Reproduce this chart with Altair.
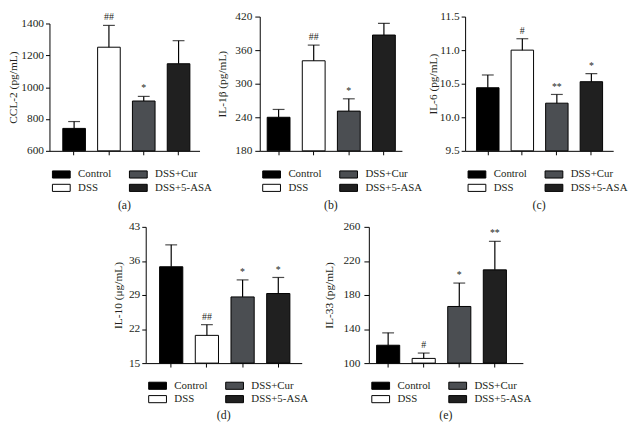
import altair as alt
import pandas as pd

FONT = "Liberation Serif"
TXT = "#231f20"

groups = ["Control", "DSS", "DSS+Cur", "DSS+5-ASA"]
bar_colors = ["#000000", "#ffffff", "#4b4e52", "#202020"]

# (a) CCL-2
ccl2_mean = [741, 1251, 913, 1147]
ccl2_err = [43, 137, 29, 145]
ccl2_sig = ["", "##", "*", ""]
ccl2_ticks = [600, 800, 1000, 1200, 1400]

# (b) IL-1beta
il1b_mean = [240, 341, 251, 387]
il1b_err = [14, 28, 22, 21]
il1b_sig = ["", "##", "*", ""]
il1b_ticks = [180, 240, 300, 360, 420]

# (c) IL-6
il6_mean = [10.44, 11.00, 10.21, 10.53]
il6_err = [0.19, 0.17, 0.13, 0.12]
il6_sig = ["", "#", "**", "*"]
il6_ticks = [9.5, 10.0, 10.5, 11.0, 11.5]

# (d) IL-10
il10_mean = [34.8, 20.7, 28.6, 29.3]
il10_err = [4.5, 2.2, 3.5, 3.3]
il10_sig = ["", "##", "*", "*"]
il10_ticks = [15, 22, 29, 36, 43]

# (e) IL-33
il33_mean = [121, 105.5, 166.5, 209.5]
il33_err = [14.5, 6.3, 27.5, 33.5]
il33_sig = ["", "#", "*", "**"]
il33_ticks = [100, 140, 180, 220, 260]


def panel(letter, ytitle, means, errs, sig, ticks, fmt, width, height,
          top_off, pad_outer, align, title_pad, tick_size, label_pad,
          legend_gap, title_gap):
    df = pd.DataFrame({"group": groups, "mean": means, "err": errs, "sig": sig})
    df["upper"] = df["mean"] + df["err"]
    xenc = alt.X(
        "group:N", sort=groups,
        scale=alt.Scale(paddingInner=0.35, paddingOuter=pad_outer, align=align),
        axis=alt.Axis(title=None, labels=False, ticks=True, tickSize=4,
                      domainColor="black", tickColor="black", domainWidth=1),
    )
    yscale = alt.Scale(domain=[ticks[0], ticks[-1]], range=[height, top_off],
                       nice=False, zero=False)
    yaxis = alt.Axis(values=ticks, format=fmt, title=ytitle, labelOverlap=False,
                     titlePadding=title_pad, tickSize=tick_size,
                     labelPadding=label_pad)
    base = alt.Chart(df)
    bars = base.mark_bar(stroke="black", strokeWidth=1).encode(
        x=xenc,
        y=alt.Y("mean:Q", scale=yscale, axis=yaxis),
        y2=alt.datum(ticks[0]),
        fill=alt.Fill(
            "group:N",
            scale=alt.Scale(domain=groups, range=bar_colors),
            legend=alt.Legend(
                orient="none", legendX=2, legendY=height + legend_gap, columns=2,
                title=None, symbolType="M-1,-0.8H3V0.8H-1Z", symbolSize=81,
                symbolStrokeColor="black", symbolStrokeWidth=1, symbolOpacity=1,
                labelFont=FONT, labelFontSize=11, labelColor=TXT,
                labelOffset=16, columnPadding=16, rowPadding=1, padding=0,
            ),
        ),
    )
    err_line = base.mark_rule(color="black", strokeWidth=1.2).encode(
        x=xenc, y=alt.Y("mean:Q", scale=yscale, axis=yaxis), y2="upper:Q")
    cap = base.mark_tick(color="black", thickness=1.2, size=12).encode(
        x=xenc, y=alt.Y("upper:Q", scale=yscale, axis=yaxis))
    txt = base.transform_filter("datum.sig != ''").mark_text(
        dy=-3, baseline="bottom", font=FONT, fontSize=10, color=TXT
    ).encode(x=xenc, y=alt.Y("upper:Q", scale=yscale, axis=yaxis), text="sig:N")
    return alt.layer(bars, err_line, cap, txt).properties(
        width=width, height=height,
        title=alt.TitleParams(text=letter, orient="bottom", anchor="middle",
                              font=FONT, fontSize=12, fontWeight="normal",
                              color=TXT, offset=title_gap),
    ).resolve_scale(fill="independent")


pa = panel("(a)", "CCL-2 (pg/mL)", ccl2_mean, ccl2_err, ccl2_sig, ccl2_ticks, "d",
           152, 136, 7, 0.33, 0.58, 2, 4, 2, 18, 6)
pb = panel("(b)", "IL-1β (pg/mL)", il1b_mean, il1b_err, il1b_sig, il1b_ticks, "d",
           144, 136, 0, 0.2, 0.53, 7, 5, 3, 18, 6)
pc = panel("(c)", "IL-6 (pg/mL)", il6_mean, il6_err, il6_sig, il6_ticks, ".1f",
           150, 136, 0, 0.32, 0.52, 1, 4, 2, 18, 6)
pd_ = panel("(d)", "IL-10 (μg/mL)", il10_mean, il10_err, il10_sig, il10_ticks, "d",
            158, 138, 0, 0.36, 0.54, 5, 4, 2, 17, 5)
pe = panel("(e)", "IL-33 (pg/mL)", il33_mean, il33_err, il33_sig, il33_ticks, "d",
           156, 138, 0, 0.34, 0.32, 9, 5, 4, 17, 5)

top = alt.hconcat(pa, pb, pc, spacing=4).resolve_scale(fill="independent")
bottom = alt.hconcat(pd_, pe, spacing=14).resolve_scale(fill="independent")

chart = alt.vconcat(top, bottom, spacing=10, center=True).resolve_scale(
    fill="independent"
).properties(
    padding=0,
    background="white",
).configure(
    font=FONT
).configure_view(
    stroke=None
).configure_legend(
    labelFont=FONT, labelFontSize=11, labelColor=TXT
).configure_axis(
    labelFont=FONT, labelFontSize=11.5, labelColor=TXT,
    titleFont=FONT, titleFontSize=11.5, titleFontWeight="normal", titleColor=TXT,
    domainColor="black", tickColor="black", grid=False,
)

chart.save("out.html", embed_options={"renderer": "svg", "actions": False})
